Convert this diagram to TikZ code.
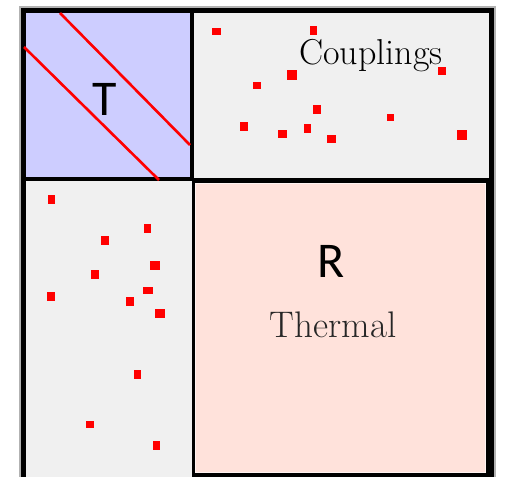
\documentclass[tikz,border=0pt]{standalone}
\usepackage{fontspec}
\newfontfamily\calib{Carlito}
\definecolor{tblue}{RGB}{205,205,255}
\definecolor{lgray}{RGB}{240,240,240}
\definecolor{rpink}{RGB}{255,226,219}
\begin{document}
\begin{tikzpicture}[x=1pt,y=-1pt,
  cell/.style={anchor=north west, inner sep=0pt, outer sep=0pt, draw=none},
  serifl/.style={anchor=base, text=black, font=\fontsize{36}{40}\selectfont},
  sansl/.style={anchor=base, text=black, font=\calib\fontsize{50}{56}\selectfont},
  dot/.style={fill=red}]
\useasboundingbox (0,0) rectangle (505,476);
\clip (0,0) rectangle (505,476);
% outer frame
\fill[black, draw=gray!60, line width=1.2pt] (20,7) rectangle (495,490);
% cells
\node[cell, fill=tblue, minimum width=164, minimum height=164] (tbox) at (26,13) {};
\node[cell, fill=lgray, minimum width=295, minimum height=165] (cbox) at (194,13) {};
\node[cell, fill=lgray, minimum width=166, minimum height=310] (lbox) at (26,181) {};
\node[cell, fill=rpink, draw=white!60!rpink, line width=0.8pt, minimum width=290, minimum height=289] (rbox) at (195,183) {};
% red diagonal lines in T block
\draw[red, line width=2.6pt] (60,13) -- (190,145);
\draw[red, line width=2.6pt] (24,47) -- (159,180);
% red entries
\foreach \x/\y/\w/\h in {216/32/9/7, 313/31/7/9, 292/75/10/10, 257/86/8/7, 442/71/8/8,
  317/109/8/9, 390/117/7/7, 244/126/8/9, 282/134/9/8, 307/128/7/9, 331/139/9/8, 462/135/10/10,
  51/199/7/9, 147/228/7/9, 105/240/8/9, 155/265/10/9, 95/274/8/9, 148/290/10/7,
  51/296/8/9, 130/301/8/9, 160/313/10/9, 137/374/7/9, 90/424/8/7, 156/445/7/9}
  \fill[dot] (\x-\w/2,\y-\h/2) rectangle (\x+\w/2,\y+\h/2);
% labels
\node[sansl] (tl) at (105,115) {T};
\node[sansl] (rl) at (331,277) {R};
\node[serifl] (coup) at (371,65) {Couplings};
\node[serifl, text=black!85, font=\fontsize{37}{42}\selectfont] (therm) at (333,337) {Thermal};
\end{tikzpicture}
\end{document}
